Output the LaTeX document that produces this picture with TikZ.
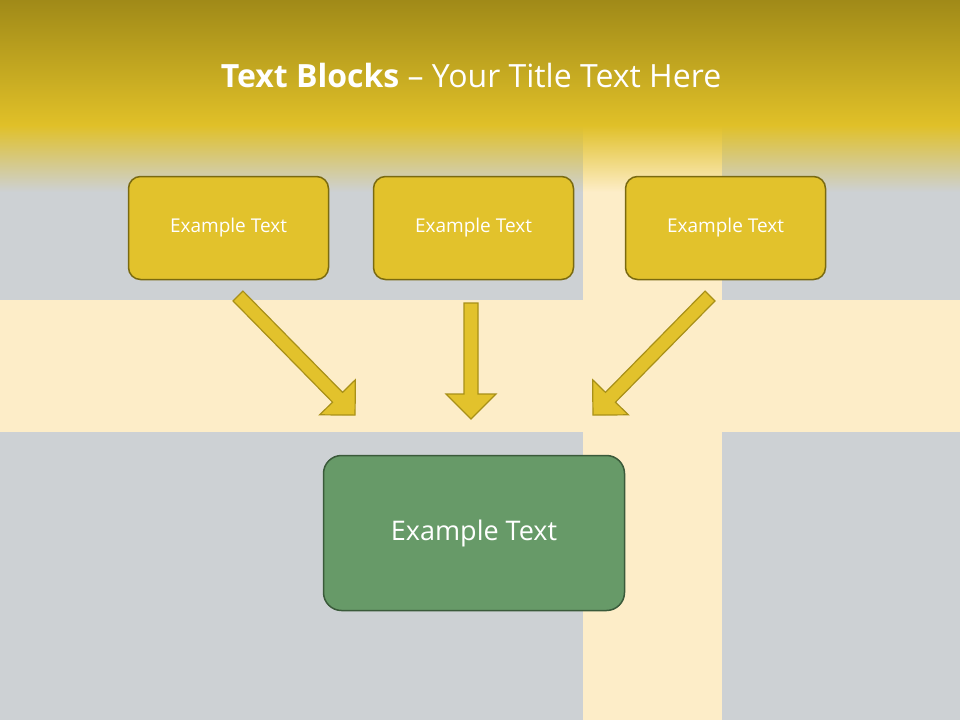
\documentclass[tikz,border=0pt]{standalone}
\usepackage{fontspec}
\setmainfont{Open Sans}
\definecolor{bg}{HTML}{CDD1D4}
\definecolor{cream}{HTML}{FDEDC8}
\definecolor{goldA}{HTML}{A08A18}
\definecolor{goldB}{HTML}{E0C028}
\definecolor{boxY}{HTML}{E2C22C}
\definecolor{boxYb}{HTML}{7A6A10}
\definecolor{arrB}{HTML}{A89018}
\definecolor{grn}{HTML}{679A68}
\definecolor{grnb}{HTML}{3A5A3A}
\tikzset{
 ybox/.style={draw=boxYb,line width=1.5pt,fill=boxY,rounded corners=12pt,minimum width=200pt,minimum height=103pt,text=white,font=\fontsize{19}{23}\selectfont},
 gbox/.style={draw=grnb,line width=1.5pt,fill=grn,rounded corners=18pt,minimum width=301pt,minimum height=155pt,text=white,font=\fontsize{27}{32}\selectfont},
 barrow/.style={draw=arrB,line width=1.2pt,fill=boxY}
}
\newcommand{\blockarr}[4]{% x y angle length
 \begin{scope}[shift={(#1,#2)},rotate=#3]
 \draw[barrow] (0,7)--(#4-25,7)--(#4-25,25)--(#4,0)--(#4-25,-25)--(#4-25,-7)--(0,-7)--cycle;
 \end{scope}}
\begin{document}
\begin{tikzpicture}[x=1pt,y=1pt]
\useasboundingbox (0,0) rectangle (960,-720);
\fill[bg] (0,0) rectangle (960,-720);
\fill[cream] (0,-300) rectangle (960,-432);
\fill[cream] (583,-120) rectangle (722,-720);
\shade[top color=goldA,bottom color=goldB] (0,0) rectangle (960,-125);
\shade[top color=goldB,bottom color=bg,opacity=1] (0,-125) rectangle (583,-192);
\shade[top color=goldB,bottom color=cream] (583,-125) rectangle (722,-192);
\shade[top color=goldB,bottom color=bg] (722,-125) rectangle (960,-192);
\node[text=white,font=\fontsize{32}{38}\selectfont] (title) at (471,-75) {\textbf{Text Blocks} -- Your Title Text Here};
\node[ybox] (b1) at (228.5,-228) {Example Text};
\node[ybox] (b2) at (473.5,-228) {Example Text};
\node[ybox] (b3) at (725.5,-228) {Example Text};
\node[gbox] (g) at (474,-533) {Example Text};
\blockarr{238}{-296}{-45.5}{167}
\blockarr{471}{-303}{-90}{116}
\blockarr{710}{-296}{-134.5}{167}
\end{tikzpicture}
\end{document}
